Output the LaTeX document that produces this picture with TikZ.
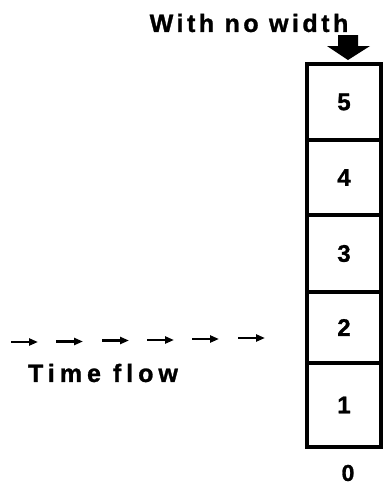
\documentclass[tikz,border=0pt]{standalone}
\usepackage{fontspec}
\newfontfamily\labelfont{Liberation Sans}[LetterSpace=14,BoldFeatures={FakeBold=1.2}]
\newfontfamily\widelabelfont{Liberation Sans}[LetterSpace=20,BoldFeatures={FakeBold=1.2}]
\newfontfamily\digitfont{Liberation Sans}[BoldFeatures={FakeBold=1.2}]
\usetikzlibrary{arrows.meta}
\begin{document}
\begin{tikzpicture}[x=1pt,y=-1pt,
  cell/.style={draw,line width=3.2pt,minimum width=74pt,inner sep=0pt,
    font=\digitfont\bfseries\fontsize{24}{24}\selectfont},
  caption/.style={inner sep=0pt,font=\labelfont\bfseries\fontsize{25}{25}\selectfont},
  widecaption/.style={inner sep=0pt,font=\widelabelfont\bfseries\fontsize{25}{25}\selectfont},
  flow/.style={line width=2.4pt,-{Triangle[length=9pt,width=7pt]}}]
\useasboundingbox (0,0) rectangle (384,485);

% stack of cells
\node[cell,minimum height=76pt] (c5) at (344,102) {5};
\node[cell,minimum height=75pt] (c4) at (344,177.5) {4};
\node[cell,minimum height=77pt] (c3) at (344,253.5) {3};
\node[cell,minimum height=71pt] (c2) at (344,327.5) {2};
\node[cell,minimum height=84pt] (c1) at (344,405) {1};
\node[inner sep=0pt,font=\digitfont\bfseries\fontsize{23}{23}\selectfont] (zero) at (348,473) {0};

% caption and block arrow on top
\node[caption] (top) at (249,23) {With no width};
\fill (338,35) -- (358,35) -- (358,46) -- (370,46) -- (348,60) -- (327,46) -- (338,46) -- cycle;

% time flow arrows
\foreach \i/\xs/\ys in {1/11/342,2/56/341.5,3/102/340.5,4/147/340,5/192/339,6/238/338}{
  \coordinate (s\i) at (\xs,\ys);
  \coordinate (e\i) at (\xs+27,\ys);
  \draw[flow] (s\i) -- (e\i);
}
\node[widecaption] (tf) at (103,373) {Time flow};
\end{tikzpicture}
\end{document}
